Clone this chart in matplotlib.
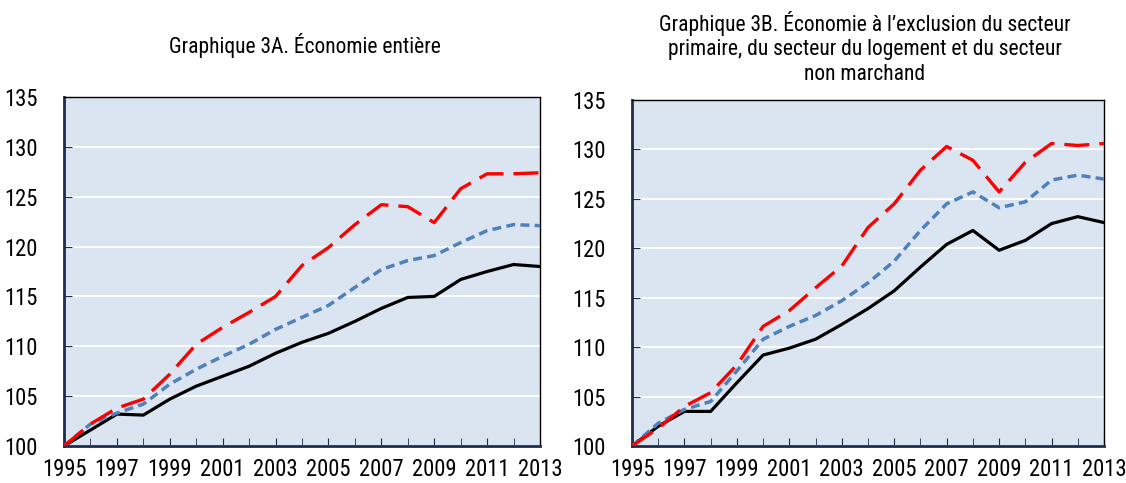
import matplotlib.pyplot as plt

# police étroite si disponible, sinon Liberation Sans
plt.rcParams['font.family'] = ['Liberation Sans Narrow', 'Roboto Condensed',
                               'Open Sans Condensed', 'Liberation Sans', 'DejaVu Sans']

years = list(range(1995, 2014))

# Graphique 3A
a_black = [100, 101.6, 103.2, 103.1, 104.7, 106.0, 107.0, 108.0, 109.3, 110.4,
           111.3, 112.5, 113.8, 114.9, 115.0, 116.7, 117.5, 118.2, 118.0]
a_blue = [100, 102.2, 103.3, 104.2, 106.2, 107.7, 109.0, 110.2, 111.7, 112.9,
          114.1, 115.9, 117.7, 118.6, 119.1, 120.4, 121.6, 122.2, 122.1]
a_red = [100, 102.2, 103.8, 104.7, 107.2, 110.2, 111.9, 113.4, 115.0, 118.1,
         119.9, 122.2, 124.2, 124.0, 122.4, 125.8, 127.3, 127.3, 127.4]

# Graphique 3B
b_black = [100, 102.0, 103.5, 103.5, 106.4, 109.2, 109.9, 110.8, 112.3, 113.9,
           115.7, 118.1, 120.4, 121.8, 119.8, 120.8, 122.5, 123.2, 122.6]
b_blue = [100, 102.3, 103.7, 104.5, 107.6, 110.8, 112.1, 113.2, 114.7, 116.5,
          118.7, 121.8, 124.5, 125.7, 124.1, 124.7, 126.9, 127.4, 127.0]
b_red = [100, 101.8, 104.0, 105.4, 108.2, 112.1, 113.7, 116.0, 118.2, 122.1,
         124.5, 127.9, 130.3, 128.9, 125.7, 128.7, 130.6, 130.4, 130.6]

titles = ["Graphique 3A. Économie entière",
          "Graphique 3B. Économie à l’exclusion du secteur\nprimaire, du secteur du logement et du secteur\nnon marchand"]

fig = plt.figure(figsize=(11.26, 4.83), dpi=100)
ax1 = fig.add_axes([64/1126, 37/483, 476/1126, 349/483])
ax2 = fig.add_axes([632/1126, 37/483, 472/1126, 346/483])

navy = '#1f2d4d'
for ax, (bk, bl, rd) in zip([ax1, ax2], [(a_black, a_blue, a_red), (b_black, b_blue, b_red)]):
    ax.set_facecolor('#dbe5f1')
    ax.plot(years, bk, color='black', lw=2.3, zorder=3)
    ax.plot(years, bl, color='#4f81bd', lw=2.5, dashes=(2.6, 1.5), zorder=3)
    ax.plot(years, rd, color='#ff0000', lw=2.4, dashes=(7.5, 3), zorder=4)
    ax.set_xlim(1995, 2013)
    ax.set_ylim(100, 135)
    ax.set_yticks(range(100, 136, 5))
    ax.set_xticks(years, minor=True)
    ax.set_xticks(range(1995, 2014, 2))
    ax.tick_params(axis='both', which='both', direction='in', length=6,
                   color=navy, labelsize=16.3)
    ax.tick_params(axis='y', pad=19)
    ax.tick_params(axis='x', pad=9)
    ax.grid(axis='y', color='white', lw=1.3)
    ax.set_axisbelow(True)
    for s in ['left', 'bottom']:
        ax.spines[s].set_color(navy)
        ax.spines[s].set_linewidth(2)
    for s in ['top', 'right']:
        ax.spines[s].set_color('black')
        ax.spines[s].set_linewidth(1)

fig.text(305/1126, 1 - 45/483, titles[0], ha='center', va='center', fontsize=15.5)
fig.text(865/1126, 1 - 48/483, titles[1], ha='center', va='center', fontsize=15.5,
         linespacing=1.25)

fig.savefig('out.png', dpi=100)
